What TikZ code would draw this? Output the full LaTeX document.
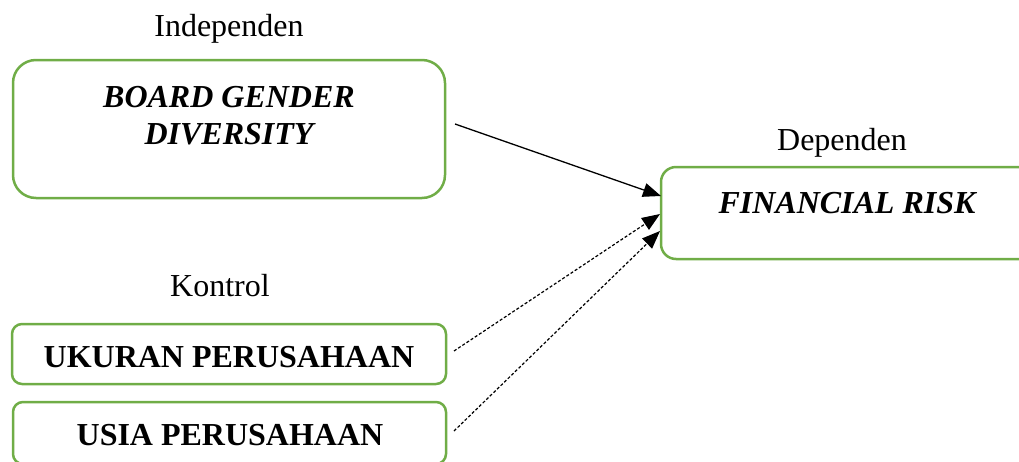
\documentclass[tikz,border=0pt]{standalone}
\usepackage{fontspec}
\setmainfont{Liberation Serif}
\usetikzlibrary{arrows.meta}
\definecolor{boxgreen}{HTML}{70AD47}
\begin{document}
\begin{tikzpicture}[x=1pt,y=-1pt,
  greenbox/.style={draw=boxgreen,line width=2.5pt,fill=none,inner sep=0pt},
  lbl/.style={anchor=base,inner sep=0pt,font=\fontsize{32}{38}\selectfont},
  boxtxt/.style={anchor=base,inner sep=0pt,font=\fontsize{32}{38}\selectfont\bfseries},
  solidarrow/.style={line width=1.3pt,-{Triangle[length=18pt,width=14pt]}},
  dasharrow/.style={line width=1.2pt,dash pattern=on 3pt off 2pt,-{Triangle[length=18pt,width=14pt]}}
]
\useasboundingbox (0,0) rectangle (1019,461);
\clip (0,0) rectangle (1019,461);
% boxes
\node[greenbox,rounded corners=23pt,minimum width=432pt,minimum height=138pt] (board) at (229,129) {};
\node[greenbox,rounded corners=15pt,minimum width=379pt,minimum height=92pt] (fr) at (850.5,213) {};
\node[greenbox,rounded corners=10pt,minimum width=434pt,minimum height=60pt] (ukuran) at (229,354) {};
\node[greenbox,rounded corners=10pt,minimum width=433pt,minimum height=62pt] (usia) at (229.5,433) {};
% labels
\node[lbl] (lind) at (229,36) {Independen};
\node[lbl] (ldep) at (842,150) {Dependen};
\node[lbl] (lkon) at (220,296) {Kontrol};
% box texts
\node[boxtxt] (t1) at (229,107) {\itshape BOARD GENDER};
\node[boxtxt] (t2) at (229,144) {\itshape DIVERSITY};
\node[boxtxt] (t3) at (847,213) {\itshape FINANCIAL RISK};
\node[boxtxt] (t4) at (229,367) {UKURAN PERUSAHAAN};
\node[boxtxt] (t5) at (230,445) {USIA PERUSAHAAN};
% connector ends
\coordinate (s1) at (455,124);
\coordinate (e1) at (661,196);
\coordinate (s2) at (454,351);
\coordinate (e2) at (660,214);
\coordinate (s3) at (454,431);
\coordinate (e3) at (660,231);
\draw[solidarrow] (s1) -- (e1);
\draw[dasharrow] (s2) -- (e2);
\draw[dasharrow] (s3) -- (e3);
\end{tikzpicture}
\end{document}
